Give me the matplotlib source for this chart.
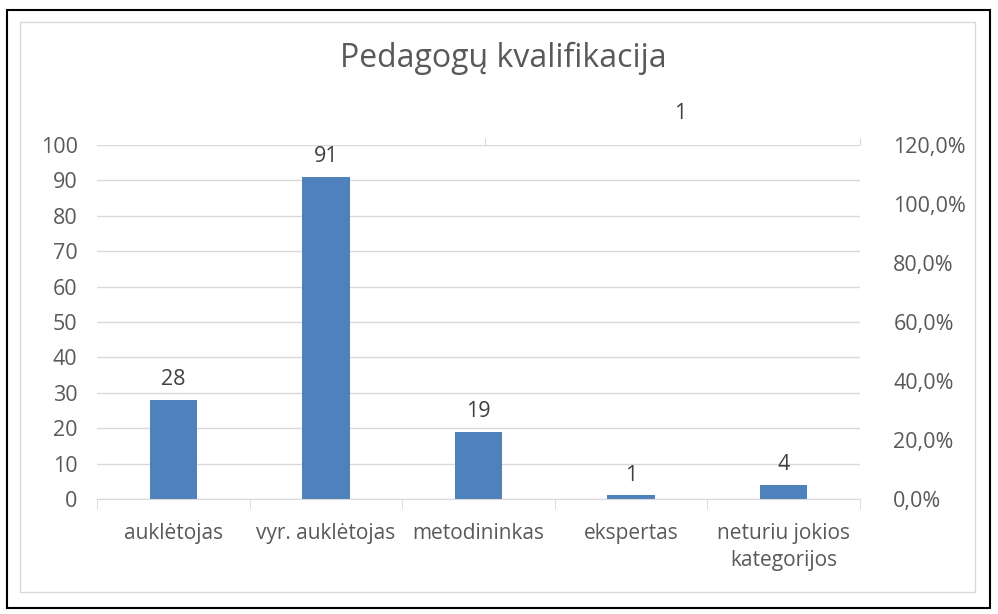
import matplotlib
matplotlib.use("Agg")
import matplotlib.pyplot as plt
from matplotlib.patches import Rectangle
from matplotlib.ticker import FuncFormatter, MultipleLocator

plt.rcParams['font.family'] = ['Open Sans', 'DejaVu Sans']

categories = ["auklėtojas", "vyr. auklėtojas", "metodininkas", "ekspertas",
              "neturiu jokios\nkategorijos"]
counts = [28, 91, 19, 1, 4]
title = "Pedagogų kvalifikacija"
pct_ticks = [0.0, 0.2, 0.4, 0.6, 0.8, 1.0, 1.2]
top_label = 1

bar_color = "#4f81bd"
text_color = "#595959"
grid_color = "#d9d9d9"

W, H = 998, 614
fig = plt.figure(figsize=(W / 100, H / 100), dpi=100)

# outer black frame and inner grey chart border
fig.patches.append(Rectangle((7 / W, 1 - 608 / H), 983 / W, 598 / H,
                             transform=fig.transFigure, fill=False,
                             edgecolor="black", linewidth=1.5))
fig.patches.append(Rectangle((20 / W, 1 - 592 / H), 955 / W, 570 / H,
                             transform=fig.transFigure, fill=False,
                             edgecolor=grid_color, linewidth=1))

ax = fig.add_axes([97 / W, 1 - 499 / H, 763 / W, 354 / H])
x = list(range(len(categories)))
bars = ax.bar(x, counts, width=0.31, color=bar_color, zorder=3)
ax.set_xlim(-0.5, len(categories) - 0.5)
ax.set_ylim(0, 100)
ax.yaxis.set_major_locator(MultipleLocator(10))
ax.grid(axis="y", color=grid_color, linewidth=1, zorder=0)
for s in ["top", "right", "left"]:
    ax.spines[s].set_visible(False)
ax.spines["bottom"].set_color(grid_color)
ax.spines["bottom"].set_zorder(4)

ax.set_xticks(x)
ax.set_xticklabels(categories, fontsize=15, color=text_color, linespacing=1.4)
ax.tick_params(axis="x", length=0, pad=17)
ax.set_xticks([i - 0.5 for i in range(len(categories) + 1)], minor=True)
ax.tick_params(axis="x", which="minor", length=7, color=grid_color)
ax.tick_params(axis="y", length=0, labelsize=15.5, labelcolor=text_color, pad=14)

for b, v in zip(bars, counts):
    ax.annotate(str(v), (b.get_x() + b.get_width() / 2, v), xytext=(0, 7),
                textcoords="offset points", ha="center", va="bottom",
                fontsize=15.5, color="#404040")

ax2 = ax.twinx()
ax2.set_ylim(0, 1.2)
ax2.set_yticks(pct_ticks)
ax2.yaxis.set_major_formatter(FuncFormatter(lambda v, p: f"{v * 100:.1f}%".replace(".", ",")))
for s in ["top", "right", "left", "bottom"]:
    ax2.spines[s].set_visible(False)
ax2.tick_params(axis="y", length=0, labelsize=15.5, labelcolor=text_color, pad=24)

# secondary category axis at the top
sec = ax.secondary_xaxis("top")
sec.set_xticks([2.04, 4.5])
sec.set_xticklabels(["", ""])
sec.tick_params(length=5, color=grid_color)
sec.spines["top"].set_visible(False)

ax.text(0.764, 1.09, str(top_label), transform=ax.transAxes, ha="center",
        va="center", fontsize=15.5, color="#404040")

fig.text(503 / W, 1 - 58 / H, title, ha="center", va="center",
         fontsize=23, color=text_color)

fig.savefig("out.png", dpi=100)
